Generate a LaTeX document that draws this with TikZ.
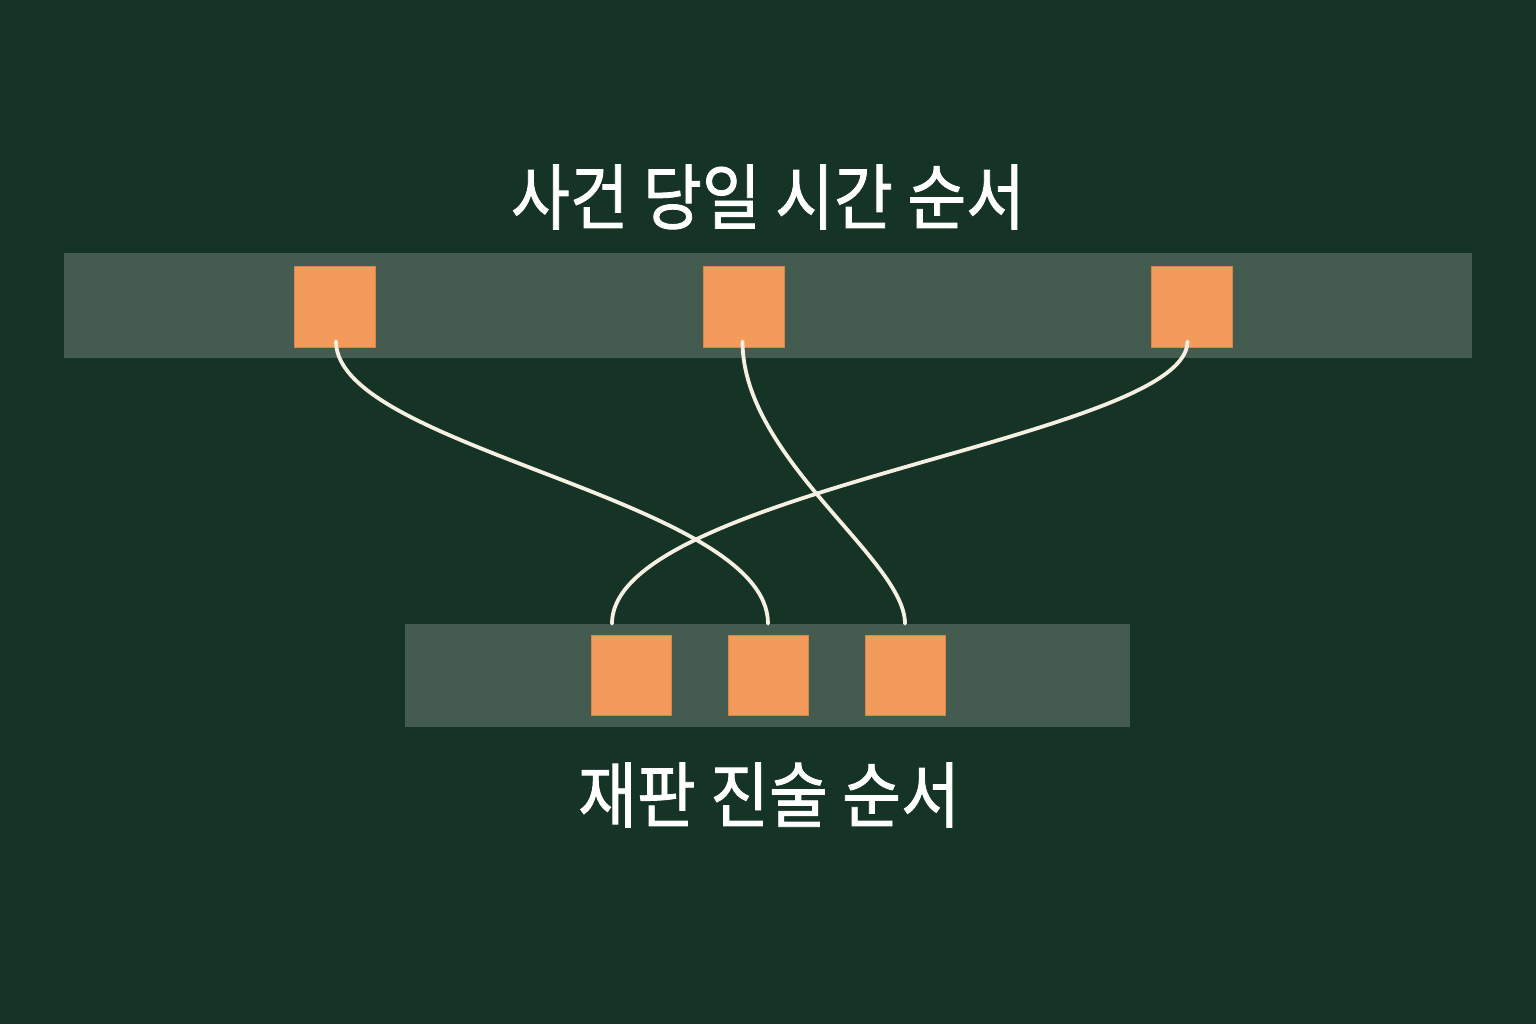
\documentclass[tikz,border=0pt]{standalone}
\usepackage{fontspec}
\newfontfamily\kr[FakeBold=1.2]{Noto Sans CJK KR}
\usetikzlibrary{calc}
\definecolor{bg}{HTML}{163426}
\definecolor{barc}{HTML}{445C4F}
\definecolor{sq}{HTML}{F29B5A}
\definecolor{sqedge}{HTML}{D9844A}
\definecolor{wire}{HTML}{F5F0E1}
\tikzset{
  bar/.style={fill=barc, draw=none, inner sep=0pt},
  topsq/.style={fill=sq, draw=sqedge, line width=0.4pt, minimum width=40.5pt, minimum height=40.5pt, inner sep=0pt},
  botsq/.style={fill=sq, draw=sqedge, line width=0.4pt, minimum width=40pt, minimum height=40pt, inner sep=0pt},
  wirec/.style={draw=wire, line width=1.9pt, line cap=round},
  title/.style={text=white, font=\kr\fontsize{32pt}{38pt}\selectfont, inner sep=0pt}
}
\begin{document}
\begin{tikzpicture}[x=0.5pt, y=-0.5pt]
\fill[bg] (0,0) rectangle (1536,1024);
\useasboundingbox (0,0) rectangle (1536,1024);
% bars
\node[bar, minimum width=704pt, minimum height=52.5pt] (topbar) at (768,305.5) {};
\node[bar, minimum width=362.5pt, minimum height=51.5pt] (botbar) at (767.5,675.5) {};
% squares
\node[topsq] (t1) at (335,306.5) {};
\node[topsq] (t2) at (743.5,306.5) {};
\node[topsq] (t3) at (1191.5,306.5) {};
\node[botsq] (b1) at (631,675.5) {};
\node[botsq] (b2) at (768,675.5) {};
\node[botsq] (b3) at (905,675.5) {};
% titles
\node[title] (toptitle) at (768,197) {\scalebox{1}[1.12]{사건 당일 시간 순서}};
\node[title] (bottitle) at (769,795) {\scalebox{1}[1.12]{재판 진술 순서}};
% connector end points
\coordinate (s1) at ($(t1.south)+(1,-6)$);
\coordinate (s2) at ($(t2.south)+(-1,-6)$);
\coordinate (s3) at ($(t3.south)+(-4,-6)$);
\coordinate (e1) at (b2.north |- botbar.north);
\coordinate (e2) at (b3.north |- botbar.north);
\coordinate (e3) at ($(b1.north |- botbar.north)+(-19,0)$);
% connectors
\draw[wirec] (s1) .. controls ($(s1)+(0,107)$) and ($(e1)+(0,-124)$) .. (e1);
\draw[wirec] (s2) .. controls ($(s2)+(0,117)$) and ($(e2)+(0,-64)$) .. (e2);
\draw[wirec] (s3) .. controls ($(s3)+(0,97)$) and ($(e3)+(0,-134)$) .. (e3);
\end{tikzpicture}
\end{document}
